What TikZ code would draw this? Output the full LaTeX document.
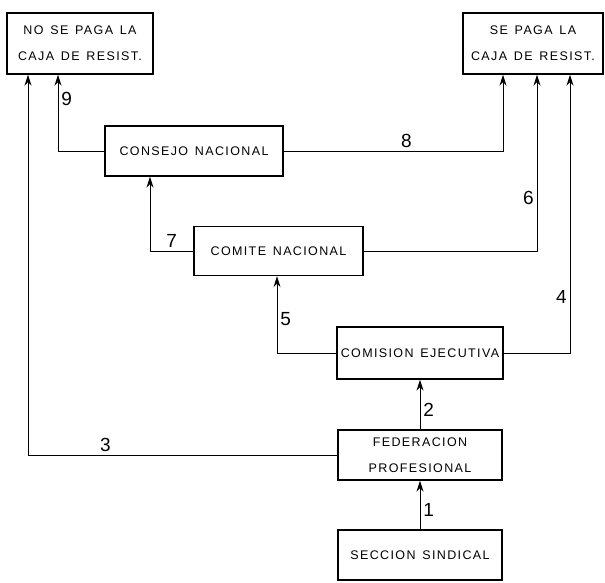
\documentclass[tikz,border=0pt]{standalone}
\usepackage{fontspec}
\setmainfont{Liberation Sans}[LetterSpace=11,WordSpace=1.4]
\usetikzlibrary{arrows.meta}
\tikzstyle{organo} = [draw, line width=1.4pt, rectangle, align=center,
font=\fontsize{12.5}{26}\selectfont, inner sep=0pt]
\tikzstyle{caja} = [organo, minimum height=61pt]
\tikzstyle{flujo} = [line width=0.8pt]
\tikzstyle{num} = [font=\fontsize{19}{19}\selectfont, inner sep=3pt]

\begin{document}
\begin{tikzpicture}[x=1pt, y=-1pt, >={Stealth[length=11pt,width=7pt]}]
\useasboundingbox (0,0) rectangle (605,582);

\node [caja, minimum width=146pt] (nopaga) at (80,43.5) {NO SE PAGA LA\\CAJA DE RESIST.};
\node [caja, minimum width=140pt] (sepaga) at (533,43.5) {SE PAGA LA\\CAJA DE RESIST.};

\node [organo, minimum width=178pt, minimum height=50pt] (consejo) at (194,151) {CONSEJO NACIONAL};
\node [organo, minimum width=169pt, minimum height=49pt] (comite) at (278.5,251) {COMITE NACIONAL};
\node [organo, minimum width=166pt, minimum height=52pt] (comision) at (420,353) {COMISION EJECUTIVA};
\node [organo, minimum width=164pt, minimum height=50pt] (federacion) at (420,455) {FEDERACION\\PROFESIONAL};
\node [organo, minimum width=164pt, minimum height=50pt] (seccion) at (420,555) {SECCION SINDICAL};

% hacia arriba
\draw [flujo,->] (seccion.north) -- node [num, right, pos=0.4] {1} (federacion.south);
\draw [flujo,->] (federacion.north) -- node [num, right, pos=0.4] {2} (comision.south);

\draw [flujo,->] (federacion.west) -| node [num, above, pos=0.375] {3} ([xshift=-52pt]nopaga.south);
\draw [flujo,->] (comision.east) -| node [num, left, pos=0.6] {4} ([xshift=37pt]sepaga.south);
\draw [flujo,->] (comision.west) -| node [num, right, pos=0.72] {5} ([xshift=-1.5pt]comite.south);
\draw [flujo,->] (comite.east) -| node [num, left, pos=0.65] {6} ([xshift=4pt]sepaga.south);
\draw [flujo,->] (comite.west) -| node [num, above, pos=0.25] {7} ([xshift=-44pt]consejo.south);
\draw [flujo,->] (consejo.east) -| node [num, above, pos=0.28] {8} ([xshift=-30pt]sepaga.south);
\draw [flujo,->] (consejo.west) -| node [num, right, pos=0.84] {9} ([xshift=-22pt]nopaga.south);
\end{tikzpicture}
\end{document}
